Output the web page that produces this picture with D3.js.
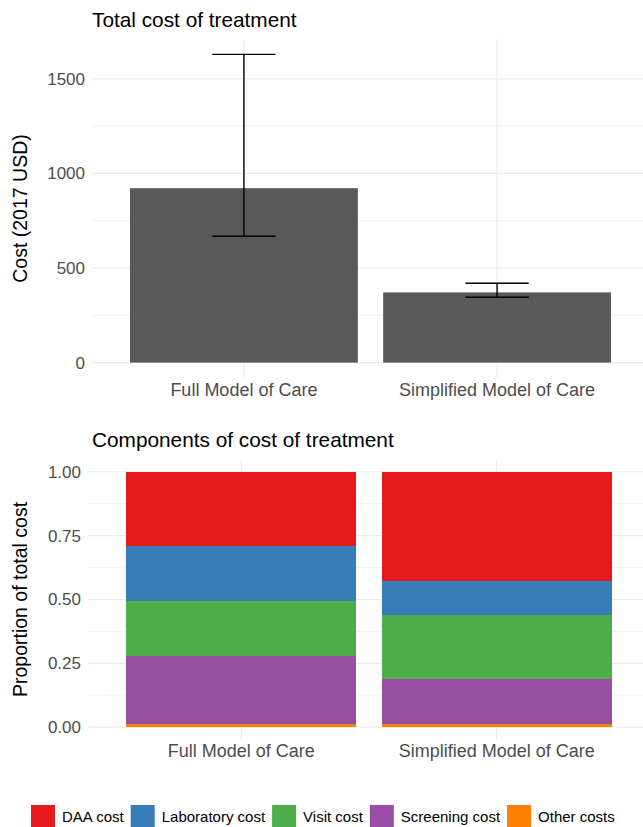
<!DOCTYPE html>
<html>
<head>
<meta charset="utf-8">
<script src="https://cdn.jsdelivr.net/npm/d3@7"></script>
<style>
body { margin: 0; background: #fff; }
text { font-family: "Liberation Sans", Arial, sans-serif; }
</style>
</head>
<body>
<div id="viz"></div>
<script>
var width = 643;
var height = 827;

// data
var models = ["Full Model of Care", "Simplified Model of Care"];
var totalCost = [922, 371];
var costLow = [668, 345];
var costHigh = [1629, 419];

var components = ["DAA cost", "Laboratory cost", "Visit cost", "Screening cost", "Other costs"];
var componentColors = ["#E41A1C", "#377EB8", "#4DAF4A", "#984EA3", "#FF7F00"];
var fullShares = [0.290, 0.215, 0.215, 0.266, 0.014];
var simplifiedShares = [0.426, 0.133, 0.251, 0.176, 0.014];

var costTicks = [0, 500, 1000, 1500];
var costMinor = [250, 750, 1250];
var propTicks = [0, 0.25, 0.5, 0.75, 1];
var propMinor = [0.125, 0.375, 0.625, 0.875];

var svg = d3.select("#viz").append("svg")
	.attr("width", width)
	.attr("height", height);

var grid = "#EBEBEB";
var tickCol = "#4D4D4D";

// ---------- top panel ----------
var p1 = { left: 92, right: 649, top: 39, bottom: 378 };

// discrete axis with 0.6 unit expansion each side, like ggplot
var x1 = d3.scalePoint()
	.domain(models)
	.range([p1.left, p1.right])
	.padding(0.6);
var step1 = x1.step();

var yMax1 = d3.max(costHigh);
var y1 = d3.scaleLinear()
	.domain([-yMax1 * 0.05, yMax1 * 1.05])
	.range([p1.bottom, p1.top]);

var g1 = svg.append("g");

g1.selectAll(".minor").data(costMinor).enter().append("line")
	.attr("x1", p1.left).attr("x2", p1.right)
	.attr("y1", function(d) { return y1(d); })
	.attr("y2", function(d) { return y1(d); })
	.attr("stroke", grid).attr("stroke-width", 0.6);

g1.selectAll(".major").data(costTicks).enter().append("line")
	.attr("x1", p1.left).attr("x2", p1.right)
	.attr("y1", function(d) { return y1(d); })
	.attr("y2", function(d) { return y1(d); })
	.attr("stroke", grid).attr("stroke-width", 1.2);

g1.selectAll(".vgrid").data(models).enter().append("line")
	.attr("x1", function(d) { return x1(d); })
	.attr("x2", function(d) { return x1(d); })
	.attr("y1", p1.top).attr("y2", p1.bottom)
	.attr("stroke", grid).attr("stroke-width", 1.2);

g1.selectAll("rect").data(totalCost).enter().append("rect")
	.attr("x", function(d, i) { return x1(models[i]) - step1 * 0.45; })
	.attr("width", step1 * 0.9)
	.attr("y", function(d) { return y1(d); })
	.attr("height", function(d) { return y1(0) - y1(d); })
	.attr("fill", "#595959");

// error bars
var capHalf = step1 * 0.125;
models.forEach(function(m, i) {
	var c = x1(m);
	g1.append("line")
		.attr("x1", c).attr("x2", c)
		.attr("y1", y1(costLow[i])).attr("y2", y1(costHigh[i]))
		.attr("stroke", "#000").attr("stroke-width", 1.4);
	[costLow[i], costHigh[i]].forEach(function(v) {
		g1.append("line")
			.attr("x1", c - capHalf).attr("x2", c + capHalf)
			.attr("y1", y1(v)).attr("y2", y1(v))
			.attr("stroke", "#000").attr("stroke-width", 1.4);
	});
});

var yAxis1 = d3.axisLeft(y1).tickValues(costTicks).tickSize(0).tickPadding(7).tickFormat(d3.format("d"));
g1.append("g")
	.attr("transform", "translate(" + p1.left + ",0)")
	.call(yAxis1)
	.call(function(g) { g.select(".domain").remove(); })
	.selectAll("text")
	.attr("font-size", 17)
	.attr("fill", tickCol)
	.attr("font-family", "Liberation Sans, Arial, sans-serif");

g1.selectAll(".xlab").data(models).enter().append("text")
	.attr("x", function(d) { return x1(d); })
	.attr("y", 396)
	.attr("text-anchor", "middle")
	.attr("font-size", 18)
	.attr("fill", tickCol)
	.text(function(d) { return d; });

svg.append("text")
	.attr("x", 92).attr("y", 27)
	.attr("font-size", 20.8)
	.attr("fill", "#000")
	.text("Total cost of treatment");

svg.append("text")
	.attr("transform", "translate(27," + ((p1.top + p1.bottom) / 2) + ") rotate(-90)")
	.attr("text-anchor", "middle")
	.attr("font-size", 19.5)
	.attr("fill", "#000")
	.text("Cost (2017 USD)");

// ---------- bottom panel ----------
var p2 = { left: 88, right: 650, top: 459, bottom: 740 };
var x2 = d3.scalePoint()
	.domain(models)
	.range([p2.left, p2.right])
	.padding(0.6);
var step2 = x2.step();

var y2 = d3.scaleLinear()
	.domain([-0.05, 1.05])
	.range([p2.bottom, p2.top]);

var g2 = svg.append("g");

g2.selectAll(".minor").data(propMinor).enter().append("line")
	.attr("x1", p2.left).attr("x2", p2.right)
	.attr("y1", function(d) { return y2(d); })
	.attr("y2", function(d) { return y2(d); })
	.attr("stroke", grid).attr("stroke-width", 0.6);

g2.selectAll(".major").data(propTicks).enter().append("line")
	.attr("x1", p2.left).attr("x2", p2.right)
	.attr("y1", function(d) { return y2(d); })
	.attr("y2", function(d) { return y2(d); })
	.attr("stroke", grid).attr("stroke-width", 1.2);

g2.selectAll(".vgrid").data(models).enter().append("line")
	.attr("x1", function(d) { return x2(d); })
	.attr("x2", function(d) { return x2(d); })
	.attr("y1", p2.top).attr("y2", p2.bottom)
	.attr("stroke", grid).attr("stroke-width", 1.2);

// stack: bottom-most is the last component
var rows = models.map(function(m, i) {
	var shares = i === 0 ? fullShares : simplifiedShares;
	var row = { model: m };
	components.forEach(function(c, j) { row[c] = shares[j]; });
	return row;
});

var stack = d3.stack().keys(components.slice().reverse());
var series = stack(rows);
var colorScale = d3.scaleOrdinal().domain(components).range(componentColors);

g2.selectAll(".layer").data(series).enter().append("g")
	.attr("fill", function(s) { return colorScale(s.key); })
	.selectAll("rect").data(function(s) { return s; }).enter().append("rect")
	.attr("x", function(d) { return x2(d.data.model) - step2 * 0.45; })
	.attr("width", step2 * 0.9)
	.attr("y", function(d) { return y2(d[1]); })
	.attr("height", function(d) { return y2(d[0]) - y2(d[1]); })
	.attr("shape-rendering", "crispEdges");

var yAxis2 = d3.axisLeft(y2).tickValues(propTicks).tickSize(0).tickPadding(7).tickFormat(d3.format(".2f"));
g2.append("g")
	.attr("transform", "translate(" + p2.left + ",0)")
	.call(yAxis2)
	.call(function(g) { g.select(".domain").remove(); })
	.selectAll("text")
	.attr("font-size", 17)
	.attr("fill", tickCol)
	.attr("font-family", "Liberation Sans, Arial, sans-serif");

g2.selectAll(".xlab").data(models).enter().append("text")
	.attr("x", function(d) { return x2(d); })
	.attr("y", 757)
	.attr("text-anchor", "middle")
	.attr("font-size", 18)
	.attr("fill", tickCol)
	.text(function(d) { return d; });

svg.append("text")
	.attr("x", 92).attr("y", 447)
	.attr("font-size", 20.8)
	.attr("fill", "#000")
	.text("Components of cost of treatment");

svg.append("text")
	.attr("transform", "translate(27," + ((p2.top + p2.bottom) / 2) + ") rotate(-90)")
	.attr("text-anchor", "middle")
	.attr("font-size", 19.5)
	.attr("fill", "#000")
	.text("Proportion of total cost");

// ---------- legend ----------
var legend = svg.append("g");
var lx = 31;
components.forEach(function(c, i) {
	legend.append("rect")
		.attr("x", lx).attr("y", 805)
		.attr("width", 24).attr("height", 24)
		.attr("fill", colorScale(c));
	var t = legend.append("text")
		.attr("x", lx + 31).attr("y", 822)
		.attr("font-size", 15)
		.attr("fill", "#000")
		.text(c);
	lx += 31 + t.node().getComputedTextLength() + 7;
});
</script>
</body>
</html>
